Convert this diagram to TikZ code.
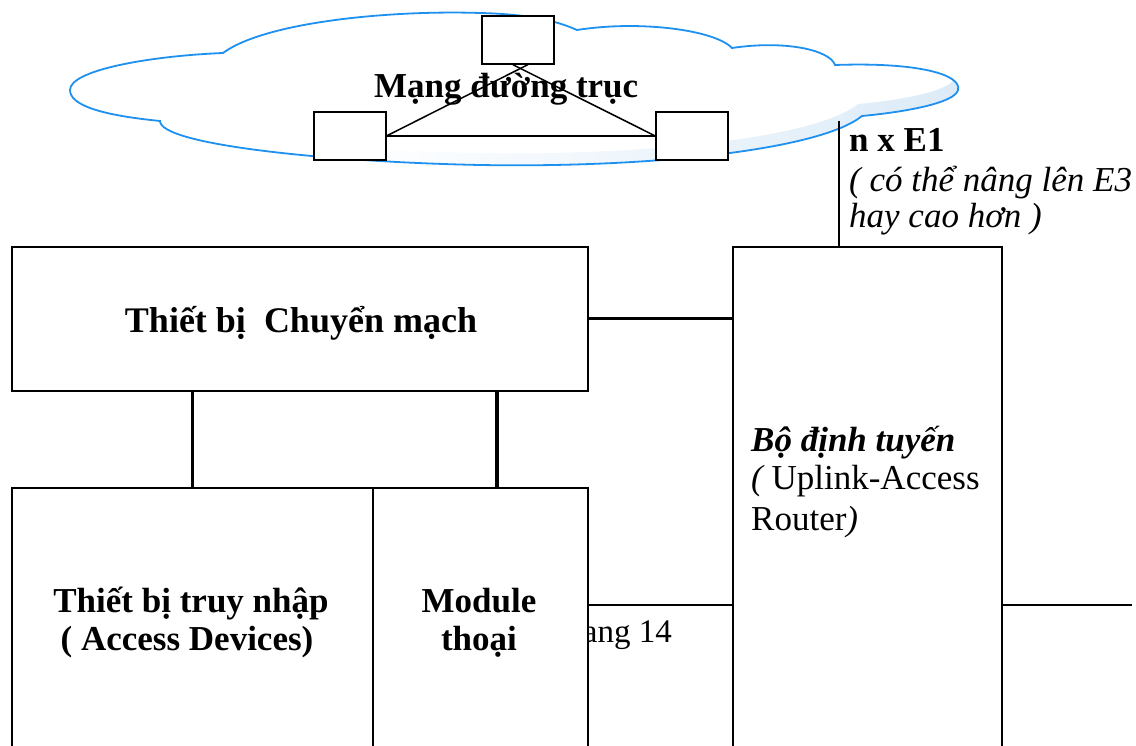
\documentclass[tikz,border=0pt]{standalone}
\usepackage{fontspec}
\setmainfont{Liberation Serif}
\definecolor{cloudblue}{RGB}{30,144,240}
\definecolor{shadeblue}{RGB}{220,235,248}
\begin{document}
\begin{tikzpicture}[x=1pt,y=-1pt,
  box/.style={draw=black, line width=1.7pt, fill=white, inner sep=0pt, anchor=north west},
  smallbox/.style={draw=black, line width=1.7pt, fill=white, inner sep=0pt, minimum width=72pt, minimum height=48pt, anchor=north west},
  link/.style={draw=black, line width=3.2pt},
  thinlink/.style={draw=black, line width=1.5pt},
  txt/.style={inner sep=0pt, font=\fontsize{35}{39}\selectfont},
  btxt/.style={txt, font=\fontsize{35}{39}\selectfont\bfseries},
  itxt/.style={txt, font=\fontsize{35}{39}\selectfont\itshape}]
\useasboundingbox (0,0) rectangle (1136,746);
\clip (0,0) rectangle (1136,746);
\def\cloudpath{(160,121) .. controls (100,115) and (70,105) .. (70,90) .. controls (70,70) and (150,56) .. (223,53) .. controls (265,22) and (390,10) .. (480,13) .. controls (525,14) and (555,20) .. (577,30) .. controls (640,20) and (715,30) .. (732,48) .. controls (785,40) and (830,50) .. (835,65) .. controls (920,62) and (962,75) .. (958,90) .. controls (955,103) and (905,112) .. (862,116) .. controls (820,150) and (650,168) .. (480,165) .. controls (330,162) and (160,145) .. (160,121) -- cycle}
% cloud
\fill[white] \cloudpath;
\begin{scope}
  \clip \cloudpath;
  \shade[left color=white, right color=shadeblue] (340,0) rectangle (960,175);
  \fill[white, shift={(-4,-12)}] \cloudpath;
\end{scope}
\draw[cloudblue, line width=1.8pt] \cloudpath;
% backbone boxes
\node[smallbox] (tb) at (481,15) {};
\node[smallbox] (lb) at (313,111) {};
\node[smallbox] (rb) at (655,111) {};
\draw[thinlink] (lb.east) -- (rb.west);
\draw[thinlink] (lb.east) -- ([xshift=10pt]tb.south);
\draw[thinlink] (rb.west) -- ([xshift=-5pt]tb.south);
\node[btxt, anchor=base west] (backbone) at (374,98) {Mạng đường trục};
% E1 label
\coordinate (cE) at (839,121);
\node[btxt, anchor=base west] (e1a) at (849,152) {n x E1};
\node[itxt, anchor=base west] (e1b) at (849,192) {( có thể nâng lên E3};
\node[itxt, anchor=base west] (e1c) at (849,228) {hay cao hơn )};
% footer remnants
\coordinate (fl) at (11,605);
\coordinate (fr) at (1132,605);
\draw[line width=1.7pt] (fl) -- (fr);
\node[txt, font=\fontsize{33}{38}\selectfont, anchor=base east] (footer) at (672,642) {Trang 14};
% main boxes
\node[box, minimum width=576pt, minimum height=144pt] (switch) at (11,246) {};
\node[btxt, font=\fontsize{36}{40}\selectfont\bfseries, anchor=base] (switchlbl) at (301,333) {Thiết bị\ \ Chuyển mạch};
\node[box, minimum width=269pt, minimum height=520pt] (router) at (732,246) {};
\node[box, minimum width=361pt, minimum height=280pt] (access) at (11,487) {};
\node[box, minimum width=215pt, minimum height=280pt] (module) at (372,487) {};
% router text
\node[txt, anchor=base west] (r1) at (751,451) {\bfseries\itshape Bộ định tuyến};
\node[txt, anchor=base west] (r2) at (751,489) {\itshape(\upshape\ Uplink-Access};
\node[txt, anchor=base west] (r3) at (751,530) {Router\itshape)};
% access & module text
\node[btxt, anchor=base] (a1) at (191,612) {Thiết bị truy nhập};
\node[btxt, anchor=base] (a2) at (187,650) {( Access Devices)};
\node[btxt, anchor=base] (m1) at (479,612) {Module};
\node[btxt, anchor=base] (m2) at (479,650) {thoại};
% connectors
\draw[line width=2pt] (cE) -- (cE |- router.north);
\draw[link] (switch.east) -- (switch.east -| router.west);
\draw[link] (access.north |- 0,488) -- (access.north |- switch.south);
\coordinate (mtop) at (497,488);
\draw[link] (mtop) -- (mtop |- switch.south);
\end{tikzpicture}
\end{document}
